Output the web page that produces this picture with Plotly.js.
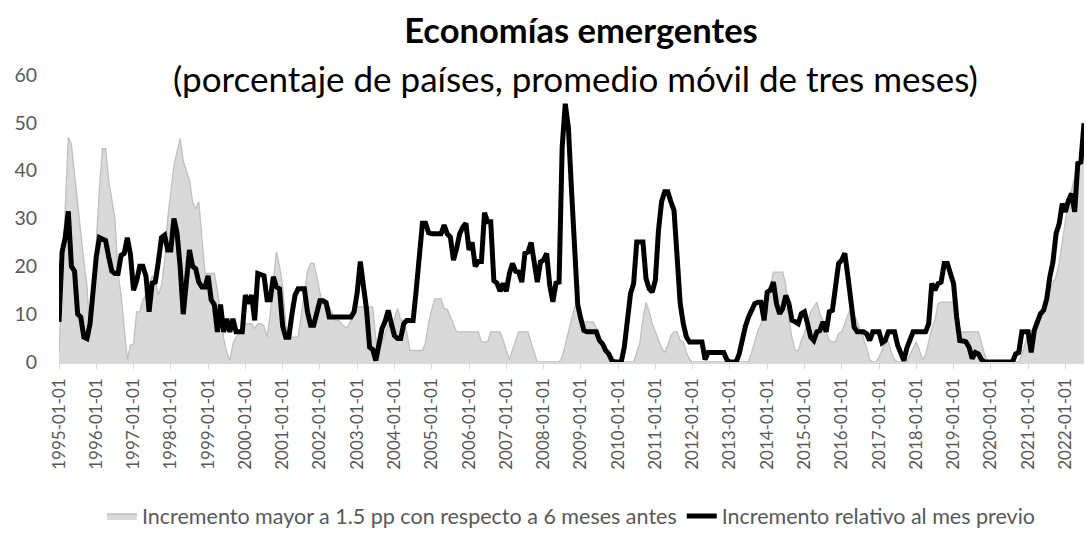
<!DOCTYPE html>
<html>
<head>
<meta charset="utf-8">
<script src="https://cdn.plot.ly/plotly-3.0.1.min.js"></script>
<style>html,body{margin:0;padding:0;background:#fff;}#chart{width:1086px;height:542px;}</style>
</head>
<body>
<div id="chart"></div>
<script>
// Monthly series, 1995-01 .. 2022-07
const startYear = 1995;
const nMonths = 331;

const seriesAreaName = "Incremento mayor a 1.5 pp con respecto a 6 meses antes";
const seriesLineName = "Incremento relativo al mes previo";

const areaValues = [
  2, 18, 33, 47, 45.5, 39, 32, 27, 21, 16, 5, 14,
  25, 36, 44.6, 44.6, 38, 34, 30, 18.5, 14, 7, 0.5, 3.5,
  3.8, 10.5, 10.5, 13, 14, 16, 18, 17, 14, 16, 21, 30,
  36, 41, 44, 46.7, 42, 40, 38, 33.5, 32, 33.5, 25, 18.5,
  18.5, 18.5, 18.5, 15, 10, 5, 2, 0.3, 3.8, 5.2, 6, 7,
  8, 8, 8, 7, 8, 8, 7.5, 5.2, 10, 17, 23, 20,
  16, 8, 5.2, 5.2, 5.2, 5.2, 10, 15, 19, 20.6, 20.6, 18,
  14.5, 12.2, 11.5, 11.5, 10, 8.7, 8.7, 8, 7.3, 7.3, 8.7, 11,
  11.5, 11.5, 11.5, 11.5, 11.5, 11.5, 5, 2.4, 4, 6, 8, 7,
  9, 11.2, 8.7, 8.7, 6, 2.4, 2.4, 2.4, 2.4, 2.4, 4, 8,
  11, 13.2, 13.2, 13.2, 11.2, 11, 9.5, 8, 6.3, 6.3, 6.3, 6.3,
  6.3, 6.3, 6.3, 6.3, 4.2, 4.2, 4.2, 6.3, 6.3, 6.3, 6.3, 4.5,
  2.5, 0.5, 2.5, 4.5, 6.3, 6.3, 6.3, 6.3, 4, 2, 0, 0,
  0, 0, 0, 0, 0, 0, 1, 3.5, 6, 9, 11.5, 12,
  10, 8.4, 8.4, 8.4, 8.4, 7, 5.2, 4, 3, 1.5, 0.3, 0,
  0, 0, 0, 0, 0, 0, 2, 4, 9, 12.5, 10.5, 8,
  6.3, 4.5, 3, 2, 3.5, 5.5, 6.3, 6.3, 4.5, 4.2, 2, 0.5,
  0, 0, 0, 0, 0, 0, 0, 0, 0, 0, 0, 0,
  0, 0, 0, 0, 0, 0, 0, 2, 4.5, 6.5, 8, 10,
  13, 15.5, 18.8, 18.8, 18.8, 18.8, 16, 9, 5, 2.4, 2.4, 4.5,
  6, 8, 10.5, 11.5, 12.5, 10, 8.7, 6.3, 4.5, 4.2, 4.2, 6,
  6.3, 8, 10, 11.2, 10, 8.4, 6.8, 5, 3, 0.5, 0, 0,
  1, 2.5, 4, 4.2, 2, 0.5, 0, 0, 0, 0, 1.5, 3,
  4.2, 2.5, 0.5, 1.5, 4, 7, 8.7, 12.2, 12.5, 12.5, 12.5, 12.5,
  12.5, 9.4, 6.3, 6.3, 6.3, 6.3, 6.3, 6.3, 6.3, 4, 1.5, 0,
  0, 0, 0, 0, 0, 0, 0, 0, 0, 0, 1.5, 4,
  6, 6.5, 7.3, 8.5, 10, 10.8, 12.5, 15, 16.5, 17.8, 20.6, 25,
  30, 33.8, 36, 39, 41.5, 43, 44
];

const lineValues = [
  8.4, 23, 26, 31.5, 20, 19, 10, 9.4, 5.2, 4.9, 8, 15,
  22, 26, 25.8, 25.4, 22, 19, 18.5, 18.5, 22.3, 22.7, 26, 22.5,
  15, 17, 20, 20, 18, 10.5, 16.5, 16.7, 21, 26, 26.5, 23.4,
  23.4, 30, 27, 20, 10, 17, 23.4, 20, 19.5, 16.7, 15.7, 15.7,
  18, 13, 12, 6.3, 12, 6.3, 9, 6.3, 9, 6.3, 6.3, 6.3,
  14, 12.2, 14, 8.7, 18.5, 18.3, 18, 13, 13, 17.8, 15.7, 15.3,
  7.5, 5.2, 5.2, 10, 14, 15.3, 15.3, 15.3, 10.5, 7.7, 7.7, 10,
  12.8, 12.8, 12.4, 9.4, 9.4, 9.4, 9.4, 9.4, 9.4, 9.4, 9.4, 10.5,
  14.5, 21, 15.5, 11, 3.1, 2.6, 0.3, 4.5, 7, 8.5, 10.8, 8,
  5.5, 4.9, 4.9, 8, 8.7, 8.7, 8.7, 15, 23.4, 29, 29, 27,
  26.8, 26.8, 26.8, 26.8, 28.6, 26.8, 26.1, 21.3, 23.7, 26.8, 28.2, 29,
  23.4, 25, 20, 21, 21, 31.2, 29.3, 29.3, 17, 16.5, 14.8, 16.4,
  14.8, 18.5, 20.6, 19, 18.8, 16.7, 22.7, 23, 25, 21, 16.7, 20.9,
  21.3, 22.7, 16, 12.6, 16.5, 16.7, 45, 54, 49, 36, 24.8, 12,
  9, 6.6, 6.3, 6.3, 6.3, 6.3, 4.5, 3.8, 2.4, 1.7, 0.3, 0,
  0, 0, 3.1, 8.7, 14.3, 16.4, 25.1, 25.1, 25.1, 17.4, 15.3, 14.6,
  17.1, 27.5, 33.5, 35.6, 35.6, 33.5, 31.7, 22, 12.2, 8, 5.2, 4.2,
  4.2, 4.2, 4.2, 4.2, 0.5, 2, 2, 2, 2, 2, 2, 0.5,
  0, 0, 0, 1.7, 5, 7.5, 9.4, 11, 12.2, 12.5, 12.5, 8.7,
  14.6, 15, 16.7, 12.2, 10.1, 11.2, 13.9, 12.2, 8.7, 8.4, 8, 10.1,
  10.5, 8, 5.2, 4.5, 6.3, 6.6, 8.4, 6.3, 10.5, 10.8, 16.4, 20.6,
  21.3, 22.7, 17.8, 12.2, 7.3, 6.3, 6.3, 6.3, 5.9, 4.5, 6.3, 6.3,
  6.3, 4, 4.5, 6.3, 6.3, 6.3, 3.5, 1.7, 0.3, 3, 5, 6.3,
  6.3, 6.3, 6.3, 6.3, 8, 16.4, 15, 16.4, 16.7, 20.6, 20.6, 18.8,
  16.4, 9.4, 4.5, 4.4, 4.2, 3.1, 0.7, 2, 1.7, 0.5, 0, 0,
  0, 0, 0, 0, 0, 0, 0, 0, 1.7, 2, 6.3, 6.3,
  6.3, 2, 6.6, 8.4, 10.1, 10.8, 13.2, 17.8, 20.9, 26.8, 28.9, 33.1,
  31.4, 33.8, 35.2, 31.4, 41.5, 41.8, 49.9
];

const yTickValues = [0, 10, 20, 30, 40, 50, 60];

// category labels "YYYY-MM-01"
const months = [];
for (let i = 0; i < nMonths; i++) {
  const y = startYear + Math.floor(i / 12);
  const m = (i % 12) + 1;
  months.push(y + "-" + (m < 10 ? "0" + m : m) + "-01");
}
const xTickLabels = months.filter(s => s.slice(5) === "01-01");

const FONT = "Lato, 'Open Sans', sans-serif";
const GREY = "#595959";

const traces = [
  {
    x: months, y: areaValues, name: seriesAreaName, type: "scatter", mode: "lines",
    fill: "tozeroy", fillcolor: "#d9d9d9",
    line: {color: "#bfbfbf", width: 1.3}
  },
  {
    x: months, y: lineValues, name: seriesLineName, type: "scatter", mode: "lines",
    line: {color: "#000000", width: 5, join: "round"}
  }
];

const layout = {
  width: 1086, height: 542,
  margin: {l: 59, r: 2, t: 75, b: 180, pad: 0},
  paper_bgcolor: "#ffffff", plot_bgcolor: "#ffffff",
  font: {family: FONT, color: GREY},
  title: {
    text: "<b>Economías emergentes</b>",
    font: {family: FONT, size: 34.5, color: "#000000"},
    x: 0.535, xref: "container", xanchor: "center",
    y: 1 - 31 / 542, yref: "container", yanchor: "middle"
  },
  annotations: [{
    text: "(porcentaje de países, promedio móvil de tres meses)",
    xref: "paper", yref: "paper", x: 0.504, y: 0.99, xanchor: "center", yanchor: "middle",
    showarrow: false, font: {family: FONT, size: 35, color: "#000000"}
  }],
  xaxis: {
    type: "category", range: [0, nMonths - 1],
    tickmode: "array", tickvals: xTickLabels, ticktext: xTickLabels,
    tickangle: -90, tickfont: {family: FONT, size: 17, color: GREY},
    ticks: "outside", ticklen: 5, tickcolor: "#d9d9d9", tickwidth: 1,
    ticklabelstandoff: 3,
    showline: true, linecolor: "#d9d9d9", linewidth: 1.5,
    showgrid: false, zeroline: false, fixedrange: true
  },
  yaxis: {
    range: [0, 60], tickmode: "array", tickvals: yTickValues,
    tickfont: {family: FONT, size: 19.5, color: GREY},
    ticks: "", showline: false, showgrid: false, zeroline: false,
    ticklabelstandoff: 21, fixedrange: true
  },
  showlegend: true,
  legend: {
    orientation: "h", x: 0.5, xanchor: "center", xref: "paper",
    y: 1 - 516 / 542, yref: "container", yanchor: "middle",
    font: {family: FONT, size: 21.5, color: GREY},
    itemwidth: 30, tracegroupgap: 0, bgcolor: "rgba(0,0,0,0)"
  }
};

Plotly.newPlot("chart", traces, layout, {displayModeBar: false, staticPlot: true});
</script>
</body>
</html>
